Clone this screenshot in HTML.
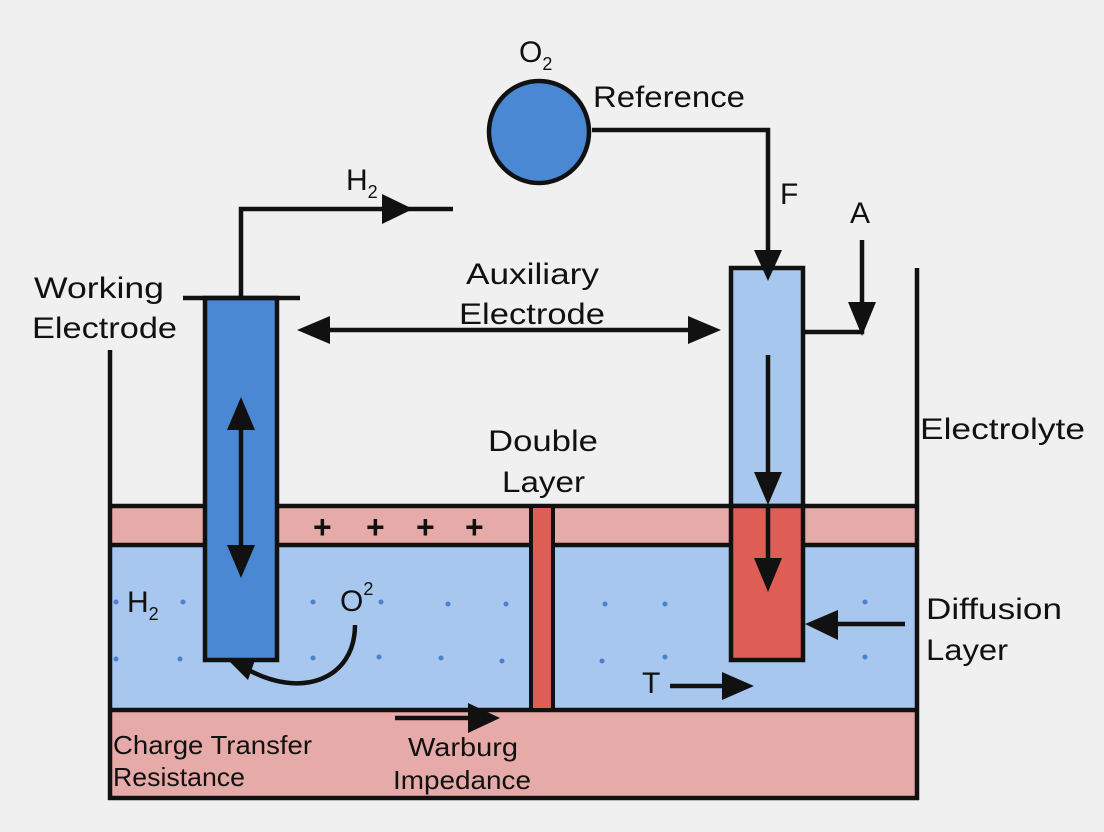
<!DOCTYPE html>
<html><head><meta charset="utf-8"><style>
html,body{margin:0;padding:0;background:#f0f0f0;}
svg{display:block;}
text{font-family:"Liberation Sans","DejaVu Sans",sans-serif;fill:#111;}
</style></head><body>
<svg width="1104" height="832" viewBox="0 0 1104 832" xmlns="http://www.w3.org/2000/svg">
<rect width="1104" height="832" fill="#f0f0f0"/>
<!-- bands -->
<rect x="110" y="506" width="807" height="39" fill="#e6aba8"/>
<rect x="110" y="545" width="807" height="165" fill="#a8c7ee"/>
<rect x="110" y="710" width="807" height="88" fill="#e6aba8"/>
<g stroke="#111" stroke-width="4.5" fill="none">
<line x1="110" y1="506" x2="917" y2="506"/>
<line x1="110" y1="545" x2="917" y2="545"/>
<line x1="110" y1="710" x2="917" y2="710"/>
<line x1="108" y1="798" x2="919" y2="798"/>
<line x1="110" y1="350" x2="110" y2="800"/>
<line x1="917" y1="268" x2="917" y2="800"/>
</g>
<!-- divider -->
<rect x="531" y="506" width="22" height="204" fill="#de5d55" stroke="#111" stroke-width="4"/>
<!-- dots -->
<g fill="#4a80d0">
<circle cx="116" cy="602" r="2.5"/><circle cx="183" cy="602" r="2.5"/><circle cx="313" cy="602" r="2.5"/><circle cx="381" cy="602" r="2.5"/><circle cx="448" cy="604" r="2.5"/><circle cx="506" cy="604" r="2.5"/>
<circle cx="116" cy="659" r="2.5"/><circle cx="180" cy="659" r="2.5"/><circle cx="313" cy="658" r="2.5"/><circle cx="379" cy="657" r="2.5"/><circle cx="441" cy="658" r="2.5"/><circle cx="502" cy="661" r="2.5"/>
<circle cx="605" cy="604" r="2.5"/><circle cx="665" cy="604" r="2.5"/><circle cx="865" cy="602" r="2.5"/>
<circle cx="602" cy="661" r="2.5"/><circle cx="665" cy="657" r="2.5"/><circle cx="865" cy="657" r="2.5"/>
</g>
<!-- plus signs -->
<g font-size="32" font-weight="bold"><text x="313" y="538">+</text><text x="366" y="538">+</text><text x="416" y="538">+</text><text x="465" y="538">+</text></g>
<!-- working electrode -->
<rect x="205" y="298" width="72" height="362" fill="#4a88d4" stroke="#111" stroke-width="4.5"/>
<g stroke="#111" stroke-width="4.5" fill="none">
<line x1="183" y1="298" x2="300" y2="298"/>
<polyline points="241,298 241,209 453,209"/>
<line x1="241" y1="420" x2="241" y2="555"/>
<line x1="318" y1="330" x2="700" y2="330"/>
<path d="M355 625 C355 680 300 700 245 668"/>
<polyline points="592,130 768,130 768,260"/>
<polyline points="862,240 862,332 803,332"/>
<line x1="905" y1="624" x2="830" y2="624"/>
<line x1="670" y1="686" x2="730" y2="686"/>
<line x1="395" y1="718" x2="470" y2="718"/>
</g>
<!-- right electrode -->
<rect x="731" y="268" width="72" height="238" fill="#a8c7ee" stroke="#111" stroke-width="4.5"/>
<rect x="731" y="506" width="72" height="154" fill="#de5d55" stroke="#111" stroke-width="4.5"/>
<g stroke="#111" stroke-width="4.5" fill="none">
<line x1="768" y1="355" x2="768" y2="480"/>
<line x1="768" y1="506" x2="768" y2="570"/>
</g>
<!-- arrowheads -->
<g fill="#111">
<polygon points="413,209 382,194 382,224"/>
<polygon points="241,397 227,430 255,430"/>
<polygon points="241,578 227,545 255,545"/>
<polygon points="297,330 330,316 330,344"/>
<polygon points="721,330 688,316 688,344"/>
<polygon points="768,281 754,250 782,250"/>
<polygon points="862,336 848,302 876,302"/>
<polygon points="768,505 754,472 782,472"/>
<polygon points="768,592 754,558 782,558"/>
<polygon points="805,624 838,610 838,640"/>
<polygon points="754,686 722,672 722,700"/>
<polygon points="500,718 468,703 468,733"/>
<polygon points="230,662 248,680 255,660"/>
</g>
<!-- reference circle -->
<ellipse cx="539" cy="132" rx="50" ry="51" fill="#4a88d4" stroke="#111" stroke-width="4.5"/>
<!-- labels -->
<g font-size="30">
<text x="519" y="62">O<tspan font-size="18" dy="8">2</tspan></text>
<text x="593" y="107" textLength="152" lengthAdjust="spacingAndGlyphs">Reference</text>
<text x="346" y="190">H<tspan font-size="18" dy="8">2</tspan></text>
<text x="780" y="204">F</text>
<text x="850" y="223">A</text>
<text x="34" y="298" textLength="130" lengthAdjust="spacingAndGlyphs">Working</text>
<text x="32" y="338" textLength="145" lengthAdjust="spacingAndGlyphs">Electrode</text>
<text x="466" y="284" textLength="133" lengthAdjust="spacingAndGlyphs">Auxiliary</text>
<text x="459" y="324" textLength="146" lengthAdjust="spacingAndGlyphs">Electrode</text>
<text x="488" y="451" textLength="110" lengthAdjust="spacingAndGlyphs">Double</text>
<text x="502" y="492" textLength="83" lengthAdjust="spacingAndGlyphs">Layer</text>
<text x="920" y="439" textLength="165" lengthAdjust="spacingAndGlyphs">Electrolyte</text>
<text x="926" y="619" textLength="136" lengthAdjust="spacingAndGlyphs">Diffusion</text>
<text x="926" y="660" textLength="82" lengthAdjust="spacingAndGlyphs">Layer</text>
<text x="127" y="612">H<tspan font-size="18" dy="8">2</tspan></text>
<text x="340" y="611">O<tspan font-size="18" dy="-16">2</tspan></text>
<text x="642" y="693">T</text>
</g>
<g font-size="26">
<text x="113" y="754" textLength="199" lengthAdjust="spacingAndGlyphs">Charge Transfer</text>
<text x="113" y="786" textLength="132" lengthAdjust="spacingAndGlyphs">Resistance</text>
<text x="408" y="756" textLength="110" lengthAdjust="spacingAndGlyphs">Warburg</text>
<text x="393" y="789" textLength="138" lengthAdjust="spacingAndGlyphs">Impedance</text>
</g>
</svg>
</body></html>
